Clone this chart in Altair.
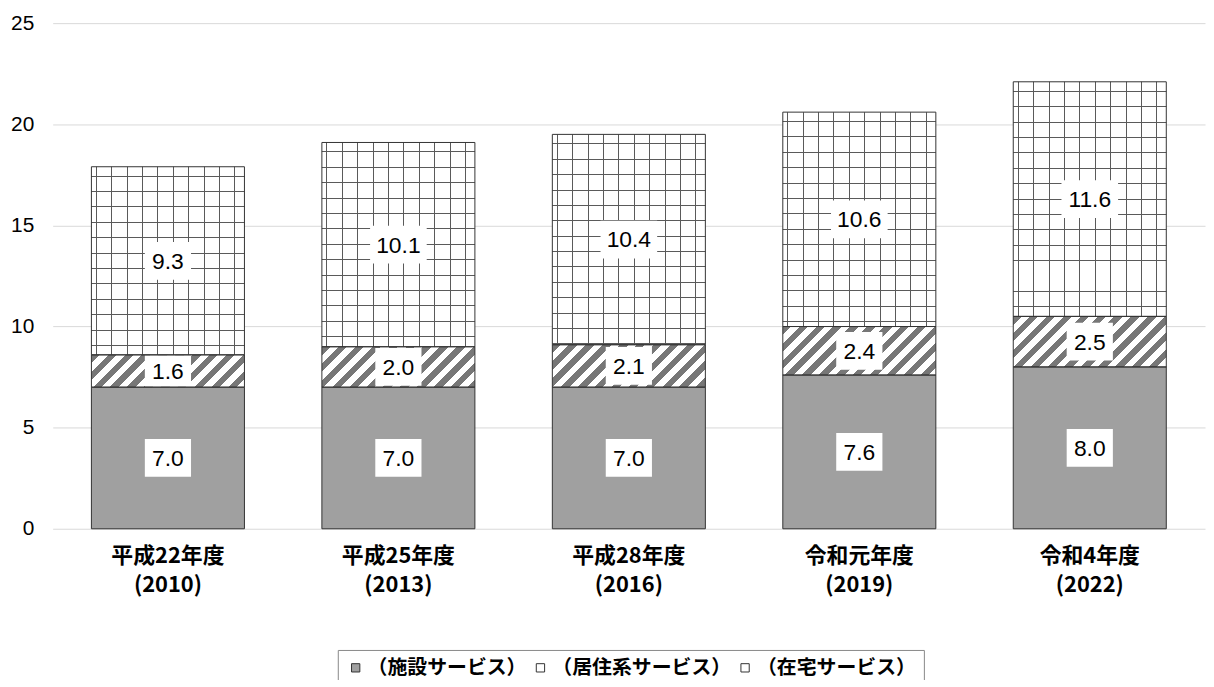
import altair as alt

# ---------------- data ----------------
categories = ["平成22年度|(2010)", "平成25年度|(2013)", "平成28年度|(2016)",
              "令和元年度|(2019)", "令和4年度|(2022)"]
series_names = ["（施設サービス）", "（居住系サービス）", "（在宅サービス）"]
shisetsu = [7.0, 7.0, 7.0, 7.6, 8.0]
kyoju = [1.6, 2.0, 2.1, 2.4, 2.5]
zaitaku = [9.3, 10.1, 10.4, 10.6, 11.6]
y_ticks = [0, 5, 10, 15, 20, 25]

# ---------------- geometry helpers (styles only) ----------------
PLOT_W, PLOT_H = 1160, 509
Y_MAX = 25
PAD_IN = 0.336
BAR_W = PLOT_W / len(categories) * (1 - PAD_IN)
PX = PLOT_H / Y_MAX


def hatch_gradient(h):
    """Diagonal '/' stripes inside a bar segment of pixel height h."""
    W, H = BAR_W, h
    a = (W + H) / (W * W + H * H)
    S = W + H
    P = 17.0
    stops = []
    k = 0
    while k * P < S:
        s0, s1 = k * P, k * P + P / 2
        for s, c0, c1 in ((s0, "#ffffff", "#777777"), (s1, "#777777", "#ffffff")):
            if s <= S:
                stops.append({"offset": s / S, "color": c0})
                stops.append({"offset": s / S, "color": c1})
        k += 1
    stops.append({"offset": 1.0, "color": stops[-1]["color"]})
    return {"gradient": "linear", "x1": 0, "y1": 0,
            "x2": W * a, "y2": H * a, "stops": stops}


def vlines_gradient():
    W = BAR_W
    stops = [{"offset": 0, "color": "rgba(0,0,0,0)"}]
    x = 4.5
    while x + 1 < W:
        stops += [{"offset": x / W, "color": "rgba(0,0,0,0)"},
                  {"offset": x / W, "color": "#5a5a5a"},
                  {"offset": (x + 1) / W, "color": "#5a5a5a"},
                  {"offset": (x + 1) / W, "color": "rgba(0,0,0,0)"}]
        x += 15.5
    stops.append({"offset": 1, "color": "rgba(0,0,0,0)"})
    return {"gradient": "linear", "x1": 0, "y1": 0, "x2": 1, "y2": 0, "stops": stops}


def hlines_gradient(h):
    stops = [{"offset": 0, "color": "rgba(0,0,0,0)"}]
    y = 9.0
    while y + 1 < h:
        stops += [{"offset": y / h, "color": "rgba(0,0,0,0)"},
                  {"offset": y / h, "color": "#5a5a5a"},
                  {"offset": (y + 1) / h, "color": "#5a5a5a"},
                  {"offset": (y + 1) / h, "color": "rgba(0,0,0,0)"}]
        y += 15.5
    stops.append({"offset": 1, "color": "rgba(0,0,0,0)"})
    return {"gradient": "linear", "x1": 0, "y1": 0, "x2": 0.000001, "y2": 1, "stops": stops}


def box_path(text, h):
    hw = (15 + 10.5 * len(text)) / 2
    hh = min(19.0, h / 2 - 0.5)
    return f"M{-hw},{-hh}H{hw}V{hh}H{-hw}Z"


records = []
for i, cat in enumerate(categories):
    base = 0.0
    for j, (name, vals) in enumerate(zip(series_names, [shisetsu, kyoju, zaitaku])):
        v = vals[i]
        h = v * PX
        label = f"{v:.1f}"
        rec = {"cat": cat, "series": name, "order": j, "start": base,
               "end": base + v, "mid": base + v / 2, "label": label,
               "box": box_path(label, h)}
        if j == 1:
            rec["pat1"] = hatch_gradient(h)
        if j == 2:
            rec["pat1"] = vlines_gradient()
            rec["pat2"] = hlines_gradient(h)
        records.append(rec)
        base += v

data = alt.Data(values=records)

x_enc = alt.X("cat:N", sort=categories,
              scale=alt.Scale(paddingInner=PAD_IN, paddingOuter=PAD_IN / 2),
              axis=alt.Axis(title=None, labelAngle=0, domain=False, ticks=False,
                            labelExpr="split(datum.label, '|')",
                            labelFont="Noto Sans CJK JP", labelFontSize=22,
                            labelFontWeight="bold",
                            labelColor="#000000", labelLineHeight=29,
                            labelPadding=17, labelBaseline="top"))
y_scale = alt.Scale(domain=[0, Y_MAX], nice=False)
y_enc = alt.Y("start:Q", scale=y_scale,
              axis=alt.Axis(title=None, values=y_ticks, domain=False, ticks=False,
                            gridColor="#d9d9d9", gridWidth=1,
                            labelFont="Liberation Sans", labelFontSize=21,
                            labelColor="#000000", labelPadding=19))
y2_enc = alt.Y2("end:Q")

base = alt.Chart(data).mark_bar(strokeWidth=0).encode(
    x=x_enc, y=y_enc, y2=y2_enc,
    color=alt.Color("series:N", sort=series_names,
                    scale=alt.Scale(domain=series_names,
                                    range=["#a0a0a0", "#ffffff", "#ffffff"]),
                    legend=alt.Legend(title=None, orient="none", direction="horizontal",
                                      legendX=287, legendY=631,
                                      symbolType="square", symbolSize=70,
                                      symbolStrokeColor="#333333", symbolStrokeWidth=1,
                                      symbolOpacity=1,
                                      labelFont="Noto Sans CJK JP", labelFontSize=20,
                                      labelFontWeight="bold", labelColor="#000000",
                                      labelLimit=0, labelOffset=2, columnPadding=4,
                                      strokeColor="#888888", padding=8,
                                      fillColor="#ffffff")),
)

hatch = alt.Chart(data).transform_filter(alt.datum.order == 1).mark_bar(strokeWidth=0).encode(
    x=alt.X("cat:N", sort=categories), y="start:Q", y2="end:Q",
    fill=alt.Fill("pat1:N", scale=None))

gridv = alt.Chart(data).transform_filter(alt.datum.order == 2).mark_bar(strokeWidth=0).encode(
    x=alt.X("cat:N", sort=categories), y="start:Q", y2="end:Q",
    fill=alt.Fill("pat1:N", scale=None))

gridh = alt.Chart(data).transform_filter(alt.datum.order == 2).mark_bar(strokeWidth=0).encode(
    x=alt.X("cat:N", sort=categories), y="start:Q", y2="end:Q",
    fill=alt.Fill("pat2:N", scale=None))

boxes = alt.Chart(data).mark_point(filled=True, color="#ffffff", size=4, opacity=1,
                                   strokeWidth=0).encode(
    x=alt.X("cat:N", sort=categories), y="mid:Q",
    shape=alt.Shape("box:N", scale=None))

outline = alt.Chart(data).mark_bar(fillOpacity=0, stroke="#333333", strokeWidth=1).encode(
    x=alt.X("cat:N", sort=categories), y="start:Q", y2="end:Q")

labels = alt.Chart(data).mark_text(font="Liberation Sans", fontSize=23, color="#000000",
                                   baseline="middle", align="center", dy=1).encode(
    x=alt.X("cat:N", sort=categories), y="mid:Q", text="label:N")

chart = alt.layer(base, hatch, gridv, gridh, boxes, outline, labels).properties(
    width=PLOT_W, height=PLOT_H,
    autosize=alt.AutoSizeParams(type="none"),
    padding={"left": 45, "top": 13, "right": 1, "bottom": 150},
).configure_view(stroke=None)

chart.save("out.html", embed_options={"renderer": "svg", "actions": False})
